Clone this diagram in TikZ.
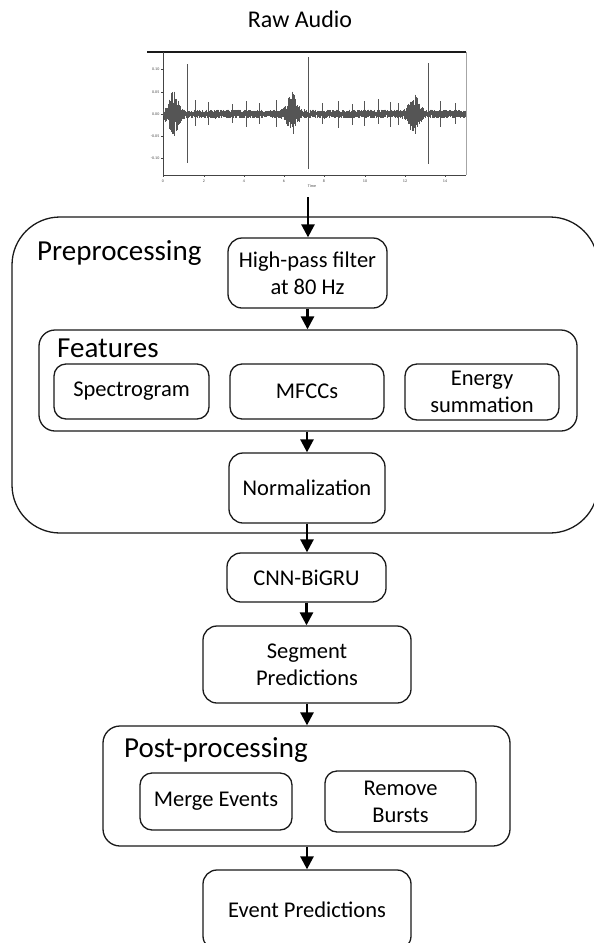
\documentclass[tikz,border=0pt]{standalone}
\usepackage{fontspec}
\setmainfont{Carlito}
\usetikzlibrary{arrows.meta}
\definecolor{linec}{HTML}{1A1A1A}
\definecolor{wavec}{HTML}{555555}
\definecolor{axisc}{HTML}{444444}
\newcommand\bxfont{\fontsize{22.5}{27}\selectfont}
\newcommand\grfont{\fontsize{29}{33}\selectfont}
\newcommand\ttlfont{\fontsize{24}{28}\selectfont}
\newcommand\tinyfont{\fontsize{4}{5}\selectfont}
\tikzset{
  box/.style={draw=linec, line width=1.3pt, rounded corners=14pt, inner sep=0pt, align=center, font=\bxfont},
  group/.style={draw=linec, line width=1.3pt, inner sep=0pt},
  grouplabel/.style={anchor=base west, inner sep=0pt, font=\grfont},
  arr/.style={draw=black, line width=2.6pt, -{Triangle[length=13pt,width=13pt]}},
  wave/.style={draw=wavec, line width=0.45pt},
  ticklab/.style={inner sep=0pt, font=\tinyfont, text=axisc}
}
\begin{document}
\begin{tikzpicture}[x=1pt,y=-1pt]
\useasboundingbox (0,0) rectangle (594,943);
\fill[white] (0,0) rectangle (594,943);
\clip (0,0) rectangle (594,943);

% title
\node[anchor=base, inner sep=0pt, font=\ttlfont] (title) at (300,27) {Raw Audio};

% waveform plot
\draw[linec, line width=1.4pt] (147,52) -- (466,52);
\draw[axisc, line width=0.6pt] (163,52) -- (163,175) -- (466,175);
\draw[gray!70, line width=0.5pt] (466,52) -- (466,175);
\foreach \yy/\lab in {69/0.10, 92/0.05, 114/0.00, 136/-0.05, 158/-0.10}{
  \draw[axisc, line width=0.4pt] (161,\yy) -- (163,\yy);
  \node[ticklab, anchor=east] at (159.5,\yy) {\lab};
}
\foreach \xx/\lab in {163/0, 204/2, 244/4, 284/6, 324/8, 365/10, 405/12, 445/14}{
  \draw[axisc, line width=0.4pt] (\xx,175) -- (\xx,177);
  \node[ticklab] at (\xx,181) {\lab};
}
\node[ticklab] (timelab) at (312,186.5) {Time};
\pgfmathsetseed{7}
\foreach \i in {0,...,604}{
  \pgfmathsetmacro\xx{163.5+0.5*\i}
  \pgfmathsetmacro\env{4.5+19*exp(-min(((\xx-173)/6)^2,9))+19*exp(-min(((\xx-292)/6)^2,9))+17*exp(-min(((\xx-414)/6)^2,9))}
  \pgfmathsetmacro\up{\env*(0.25+0.75*rnd)}
  \pgfmathsetmacro\dn{\env*(0.25+0.75*rnd)}
  \draw[wave] (\xx,114-\up) -- (\xx,114+\dn);
}
\foreach \sa/\sb/\sc in {187/64/163, 308/57/169, 428/63/164}{
  \draw[wave, line width=0.9pt] (\sa,\sb) -- (\sa,\sc);
}
\foreach \sa/\sb/\sc in {195/100/126, 208/102/125, 232/104/123, 246/101/127, 259/103/124, 276/100/127, 322/103/124, 338/101/128, 352/104/125, 364/101/126, 378/99/124, 390/102/127, 398/103/125, 440/101/127, 455/103/124}{
  \draw[wave, line width=0.6pt] (\sa,\sb) -- (\sa,\sc);
}
\coordinate (wavebot) at (308,197);

% group containers
\node[group, rounded corners=48pt, minimum width=586pt, minimum height=316pt] (pre) at (305,375) {};
\node[group, rounded corners=16pt, minimum width=538pt, minimum height=101pt] (feat) at (308,380.5) {};
\node[group, rounded corners=17pt, minimum width=407pt, minimum height=120pt] (post) at (306.5,786) {};
\node[grouplabel] (prelab) at (37,260) {Preprocessing};
\node[grouplabel] (featlab) at (57,357) {Features};
\node[grouplabel] (postlab) at (124,757) {Post-processing};

% boxes
\node[box, minimum width=159pt, minimum height=70pt] (hp) at (307.5,273) {High-pass filter\\at 80 Hz};
\node[box, rounded corners=12pt, minimum width=155pt, minimum height=55pt] (spec) at (131.5,391.5) {Spectrogram};
\node[box, rounded corners=12pt, minimum width=154pt, minimum height=55pt] (mfcc) at (307,391.5) {MFCCs};
\node[box, rounded corners=12pt, minimum width=154pt, minimum height=56pt] (energy) at (482,392) {Energy\\summation};
\node[box, minimum width=156pt, minimum height=70pt] (norm) at (307,488) {Normalization};
\node[box, minimum width=159pt, minimum height=49pt] (cnn) at (306.5,577.5) {CNN-BiGRU};
\node[box, minimum width=208pt, minimum height=77pt] (seg) at (307,664.5) {Segment\\Predictions};
\node[box, rounded corners=12pt, minimum width=152pt, minimum height=57pt] (merge) at (216,801.5) {Merge Events};
\node[box, rounded corners=12pt, minimum width=151pt, minimum height=61pt] (remove) at (400.5,801.5) {Remove\\Bursts};
\node[box, minimum width=208pt, minimum height=80pt] (event) at (307,910) {Event Predictions};

% connectors
\draw[arr] (wavebot) -- (wavebot |- hp.north);
\draw[arr] (hp.south) -- (hp.south |- feat.north);
\draw[arr] (norm.north |- feat.south) -- (norm.north);
\draw[arr] (norm.south) -- (norm.south |- cnn.north);
\draw[arr] (cnn.south) -- (cnn.south |- seg.north);
\draw[arr] (seg.south) -- (seg.south |- post.north);
\draw[arr] (seg.south |- post.south) -- (event.north);
\end{tikzpicture}
\end{document}
